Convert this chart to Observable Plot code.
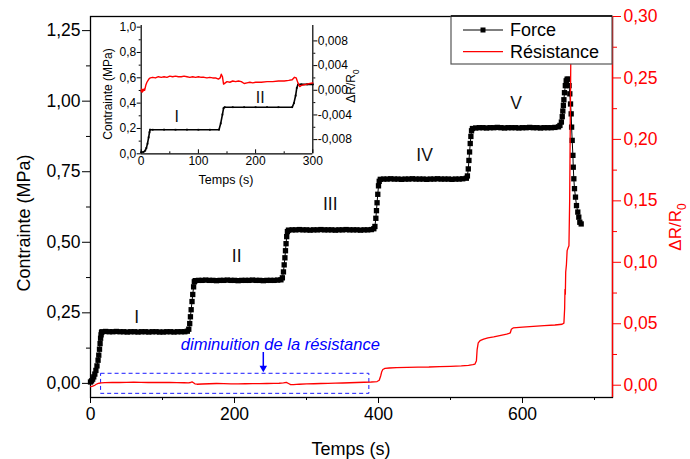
<!DOCTYPE html>
<html><head><meta charset="utf-8">
<script src="https://cdn.jsdelivr.net/npm/d3@7"></script>
<script src="https://cdn.jsdelivr.net/npm/@observablehq/plot@0.6"></script>
<style>
body{margin:0;background:#fff}
#chart{position:relative;width:690px;height:459px;font-family:"Liberation Sans",Arial,sans-serif}
#chart svg{position:absolute;left:0;top:0;overflow:visible}
</style></head><body><div id="chart"></div><script>
// ---------- data ----------
// Force (MPa) vs time (s)
const force = [[0,0.005],[1.5,0.009],[3,0.015],[4.5,0.023],[6,0.033],[7.5,0.046],[9,0.062],[10.5,0.082],[11.5,0.100],[12.5,0.121],[13.3,0.141],[14,0.160],[14.7,0.172],[15.3,0.180],
[16,0.183],[21,0.184],[26,0.183],[31,0.183],[36,0.184],[41,0.183],[46,0.183],[51,0.182],[56,0.183],[61,0.183],[66,0.182],[71,0.183],[76,0.183],[81,0.182],[86,0.183],[91,0.183],[96,0.182],[101,0.182],[106,0.183],[111,0.183],[116,0.182],[121,0.183],[126,0.183],[131,0.183],[134.5,0.185],
[136.5,0.192],[137.8,0.212],[138.8,0.236],[139.8,0.261],[141,0.29],[142,0.315],[143.2,0.342],[144.2,0.360],
[145.5,0.364],[150,0.365],[155,0.365],[160,0.366],[165,0.365],[170,0.365],[175,0.364],[180,0.365],[185,0.365],[190,0.366],[195,0.365],[200,0.365],[205,0.364],[210,0.365],[215,0.365],[220,0.365],[225,0.366],[230,0.365],[235,0.365],[240,0.364],[245,0.365],[250,0.365],[255,0.365],[260,0.366],[264.5,0.367],
[266.5,0.374],[268,0.395],[269,0.42],[270,0.445],[270.8,0.47],[271.6,0.495],[272.5,0.52],[273.5,0.538],
[275,0.543],[280,0.544],[285,0.544],[290,0.545],[295,0.544],[300,0.544],[305,0.543],[310,0.544],[315,0.544],[320,0.545],[325,0.544],[330,0.544],[335,0.544],[340,0.543],[345,0.544],[350,0.544],[355,0.545],[360,0.544],[365,0.544],[370,0.544],[375,0.543],[380,0.544],[385,0.544],[390,0.545],[393.5,0.548],
[395,0.556],[396.3,0.585],[397.2,0.612],[398,0.64],[399,0.67],[400,0.70],[401,0.716],
[402.5,0.723],[407,0.724],[412,0.724],[417,0.725],[422,0.724],[427,0.724],[432,0.723],[437,0.724],[442,0.724],[447,0.725],[452,0.724],[457,0.724],[462,0.724],[467,0.723],[472,0.724],[477,0.724],[482,0.725],[487,0.724],[492,0.724],[497,0.724],[502,0.723],[507,0.724],[512,0.724],[517,0.725],[522,0.727],
[523.5,0.735],[524.7,0.76],[525.6,0.79],[526.5,0.82],[527.4,0.85],[528.3,0.875],[529.2,0.895],
[530.5,0.903],[535,0.905],[540,0.906],[545,0.906],[550,0.905],[555,0.906],[560,0.906],[565,0.907],[570,0.906],[575,0.905],[580,0.906],[585,0.906],[590,0.906],[595,0.905],[600,0.906],[605,0.906],[610,0.907],[615,0.906],[620,0.906],[625,0.905],[630,0.906],[635,0.906],[640,0.906],[645,0.907],[650,0.909],
[652,0.914],[654,0.926],[655.2,0.945],[656,0.965],[656.8,0.985],[657.5,1.005],[658.3,1.03],[659.5,1.055],[660.7,1.072],[662,1.078],[663.5,1.078],[664.7,1.055],[665.7,1.026],[666.7,0.99],[667.6,0.955],[668.2,0.908],[669,0.861],[670,0.808],[670.5,0.766],[671.3,0.725],[672.2,0.69],[673.6,0.66],[675,0.63],[676.8,0.607],[678.2,0.589],[679.6,0.571],[681.5,0.565]];

// Résistance (ΔR/R0) vs time (s)
const resistance = [[0,-0.0012],[2,-0.0010],[4,-0.0006],[6,0.0000],[8,0.0008],[10,0.0013],[12,0.0016],[15,0.0019],[20,0.0021],[30,0.0022],[40,0.0022],[50,0.0023],[60,0.0024],[70,0.0023],[80,0.0022],[90,0.0022],[100,0.0022],[110,0.0022],[120,0.0021],[130,0.0020],[136,0.0019],[139,0.0022],[141,0.0027],[143,0.0020],[145,0.0011],[148,0.0008],[155,0.0010],[165,0.0012],[175,0.0014],[185,0.0013],[195,0.0011],[205,0.0011],[215,0.0012],[225,0.0013],[235,0.0013],[245,0.0014],[255,0.0015],[262,0.0016],[268,0.0019],[272,0.0023],[275,0.0014],[278,0.0005],[282,0.0004],[290,0.0008],[300,0.0011],[310,0.0012],[320,0.0014],[330,0.0015],[340,0.0017],[350,0.0018],[360,0.0020],[370,0.0022],[380,0.0024],[390,0.0026],[398,0.0030],[401,0.0040],[403,0.0075],[404.5,0.0110],[406,0.0128],[409,0.0137],[415,0.0140],[425,0.0143],[440,0.0145],[455,0.0147],[470,0.0148],[485,0.0151],[500,0.0154],[515,0.0158],[525,0.0162],[531,0.0167],[534,0.0172],[536,0.0200],[537,0.0290],[538.5,0.0345],[541,0.0362],[546,0.0375],[552,0.0385],[560,0.0393],[570,0.0405],[578,0.0415],[583,0.0425],[584.5,0.0455],[587,0.0466],[600,0.0472],[615,0.0478],[630,0.0484],[645,0.0490],[655,0.0496],[657.5,0.0505],[658.5,0.062],[659,0.078],[659.5,0.074],[660,0.092],[661,0.098],[662,0.1095],[663.5,0.1120],[664.5,0.1135],[665.5,0.150],[666.3,0.210],[667,0.260],[667.8,0.310]];

// Inset: first 300 s
const insetForce = [[0,0.012],[4,0.015],[7,0.025],[9,0.045],[11,0.08],[13,0.13],[14.5,0.17],[15.5,0.19],[20,0.19],[40,0.19],[60,0.19],[80,0.19],[100,0.19],[120,0.19],[136,0.19],[139,0.24],[142,0.31],[144,0.36],[146,0.368],[160,0.368],[180,0.368],[200,0.368],[220,0.368],[240,0.368],[264,0.368],[267,0.40],[270,0.46],[272,0.52],[274,0.547],[280,0.548],[290,0.548],[300,0.548]];
const insetResistance = [[0,-0.0002],[1,0.0002],[2,-0.0003],[3,0.0001],[4,-0.0001],[5,0.0002],[6,0.0000],[7,0.0004],[8,0.0008],[10,0.0013],[12,0.0016],[14,0.0019],[16,0.0020],[20,0.0021],[25,0.0020],[30,0.0022],[35,0.0021],[40,0.0022],[45,0.0021],[50,0.0023],[55,0.0022],[60,0.0023],[65,0.0022],[70,0.0022],[75,0.0023],[80,0.0022],[85,0.0021],[90,0.0022],[95,0.0021],[100,0.0022],[105,0.0021],[110,0.0021],[115,0.0020],[120,0.0021],[125,0.0020],[130,0.0020],[135,0.0018],[138,0.0020],[140,0.0026],[142,0.0022],[144,0.0010],[147,0.0012],[150,0.0014],[155,0.0013],[160,0.0015],[165,0.0014],[170,0.0015],[175,0.0014],[180,0.0011],[185,0.0012],[190,0.0013],[195,0.0012],[200,0.0013],[210,0.0013],[220,0.0014],[230,0.0014],[240,0.0015],[250,0.0015],[258,0.0016],[264,0.0017],[268,0.0021],[271,0.0020],[274,0.0012],[277,0.0006],[280,0.0008],[285,0.0009],[290,0.0010],[295,0.0011],[300,0.0012]];

// Labels and annotations
const stages = [{t:64,v:0.234,label:"I"},{t:203,v:0.45,label:"II"},{t:333,v:0.636,label:"III"},{t:464,v:0.808,label:"IV"},{t:591,v:0.993,label:"V"}];
const insetStages = [{t:62,v:0.29,label:"I"},{t:208,v:0.44,label:"II"}];
const noteBox = [{t1:14.7,t2:387.3,v1:-0.037,v2:0.034}];
const noteText = [{t:125.5,v:0.136,label:"diminuition de la résistance"}];
const noteArrow = [{t:240,v1:0.1095,v2:0.058,tip:0.0547}];

// Ticks
const xTicks = [0,200,400,600], xMinor = [100,300,500,700];
const yTicks = [0,0.25,0.5,0.75,1,1.25], yMinor = [0.125,0.375,0.625,0.875,1.125];
const rTicks = [0,0.05,0.1,0.15,0.2,0.25,0.3], rMinor = [0.025,0.075,0.125,0.175,0.225,0.275];
const ixTicks = [0,100,200,300], ixMinor = [50,150,250];
const iyTicks = [0,0.2,0.4,0.6,0.8,1.0], iyMinor = [0.1,0.3,0.5,0.7,0.9];
const irTicks = [-0.008,-0.004,0,0.004,0.008], irMinor = [-0.006,-0.002,0.002,0.006];

// ---------- drawing ----------
const W = 690, H = 459;
const FONT = "'Liberation Sans', Arial, sans-serif";
const F = force.map(([t,v]) => ({t,v}));
const R = resistance.map(([t,r]) => ({t,r}));
const IF = insetForce.map(([t,v]) => ({t,v}));
const IR = insetResistance.map(([t,r]) => ({t,r}));
const comma = (d,n) => (d < -1e-12 ? "-" : "") + Math.abs(d).toFixed(n).replace(".", ",");
const blank = () => "";
const root = document.getElementById("chart");

const mainM = {marginLeft:90, marginRight:78, marginTop:16, marginBottom:62};
const main = Plot.plot({
  width:W, height:H, ...mainM,
  style:{fontFamily:FONT, fontSize:"17.5px", background:"transparent", color:"black"},
  x:{domain:[0,725]}, y:{domain:[-0.05,1.3]},
  marks:[
    Plot.frame({stroke:"black", strokeWidth:1.3}),
    Plot.axisY(yMinor, {tickSize:4, tickFormat:blank, label:null}),
    Plot.axisY(yTicks, {tickSize:8, tickPadding:2, tickFormat:d=>comma(d,2), label:null}),
    Plot.axisX(xMinor, {tickSize:3, tickFormat:blank, label:null}),
    Plot.axisX(xTicks, {tickSize:6, tickPadding:4, tickFormat:d=>String(d), label:null}),
    Plot.rect(noteBox, {x1:"t1", x2:"t2", y1:"v1", y2:"v2", fill:"none", stroke:"#1a1aff", strokeWidth:1, strokeDasharray:"4,3"}),
    Plot.ruleX(noteArrow, {x:"t", y1:"v1", y2:"v2", stroke:"#0000ff", strokeWidth:1.5}),
    Plot.dot(noteArrow, {x:"t", y:"tip", symbol:"triangle", r:2.8, rotate:180, fill:"#0000ff", stroke:null}),
    Plot.text(noteText, {x:"t", y:"v", text:"label", textAnchor:"start", fill:"#0000ff", fontStyle:"italic", fontSize:16.5}),
    Plot.line(F, {x:"t", y:"v", stroke:"black", strokeWidth:1}),
    Plot.dot(F, {x:"t", y:"v", symbol:"square", r:3, fill:"black", stroke:null}),
    Plot.text(stages, {x:"t", y:"v", text:"label", fontSize:17.5, fill:"#111"})
  ]
});
root.appendChild(main);

const red = Plot.plot({
  width:W, height:H, ...mainM,
  style:{fontFamily:FONT, fontSize:"17.5px", background:"transparent", color:"#ff0000"},
  x:{domain:[0,725], axis:null}, y:{domain:[-0.01,0.30]},
  marks:[
    Plot.axisY(rMinor, {anchor:"right", tickSize:4, tickFormat:blank, label:null}),
    Plot.axisY(rTicks, {anchor:"right", tickSize:8, tickPadding:3, tickFormat:d=>comma(d,2), label:null}),
    Plot.ruleX([725], {stroke:"#ff0000", strokeWidth:1.3}),
    Plot.line(R, {x:"t", y:"r", stroke:"#ff0000", strokeWidth:1.3, clip:true})
  ]
});
root.appendChild(red);

const inM = {marginLeft:140.7, marginRight:W-312.3, marginTop:25, marginBottom:H-153.3};
const inset = Plot.plot({
  width:W, height:H, ...inM,
  style:{fontFamily:FONT, fontSize:"12px", background:"transparent", color:"black"},
  x:{domain:[0,300]}, y:{domain:[0,1.013]},
  marks:[
    Plot.ruleX([0], {stroke:"black", strokeWidth:1.2}),
    Plot.ruleY([0], {stroke:"black", strokeWidth:1.2}),
    Plot.axisY(iyMinor, {tickSize:2, tickFormat:blank, label:null}),
    Plot.axisY(iyTicks, {tickSize:4, tickPadding:1, tickFormat:d=>comma(d,1), label:null}),
    Plot.axisX(ixMinor, {tickSize:-2, tickFormat:blank, label:null}),
    Plot.axisX(ixTicks, {tickSize:-4, tickPadding:7, tickFormat:d=>String(d), label:null}),
    Plot.line(IF, {x:"t", y:"v", stroke:"black", strokeWidth:1.6}),
    Plot.dot(IF, {x:"t", y:"v", symbol:"square", r:1, fill:"black", stroke:null}),
    Plot.text(insetStages, {x:"t", y:"v", text:"label", fontSize:16, fill:"#111"})
  ]
});
root.appendChild(inset);

const insetRed = Plot.plot({
  width:W, height:H, ...inM,
  style:{fontFamily:FONT, fontSize:"12px", background:"transparent", color:"black"},
  x:{domain:[0,300], axis:null}, y:{domain:[-0.0103,0.0105]},
  marks:[
    Plot.ruleX([300], {stroke:"black", strokeWidth:1.2}),
    Plot.axisY(irMinor, {anchor:"right", tickSize:2, tickFormat:blank, label:null}),
    Plot.axisY(irTicks, {anchor:"right", tickSize:4, tickPadding:1, tickFormat:d=>comma(d,3), label:null}),
    Plot.line(IR, {x:"t", y:"r", stroke:"#ff0000", strokeWidth:1.4})
  ]
});
root.appendChild(insetRed);

// Axis titles and legend
const svg = d3.select(root).append("svg").attr("width", W).attr("height", H)
  .style("font-family", FONT);
function title(x, y, size, color, rot, parts){
  const t = svg.append("text").attr("transform", `translate(${x},${y}) rotate(${rot})`)
    .attr("text-anchor","middle").attr("dominant-baseline","central")
    .attr("font-size", size).attr("fill", color);
  parts.forEach(([s, sub]) => {
    const sp = t.append("tspan").text(s);
    if (sub) sp.attr("baseline-shift","sub").attr("font-size", size*0.7);
  });
}
title(24, 223, 18, "black", -90, [["Contrainte (MPa)"]]);
title(351, 449, 18, "black", 0, [["Temps (s)"]]);
title(675, 227, 17, "#ff0000", -90, [["ΔR/R"],["0",true]]);
title(108, 94, 12, "black", -90, [["Contrainte (MPa)"]]);
title(226, 180, 12.5, "black", 0, [["Temps (s)"]]);
title(351, 86, 12, "black", -90, [["ΔR/R"],["0",true]]);

const legendItems = [{label:"Force", color:"black", marker:true},{label:"Résistance", color:"#ff0000", marker:false}];
const lg = svg.append("g");
lg.append("rect").attr("x",451).attr("y",16).attr("width",161).attr("height",48)
  .attr("fill","white").attr("stroke","#555").attr("stroke-width",1.2);
legendItems.forEach((d,i) => {
  const y = 30 + i*21.7;
  lg.append("line").attr("x1",463).attr("x2",503).attr("y1",y).attr("y2",y).attr("stroke",d.color).attr("stroke-width",1.2);
  if (d.marker) lg.append("rect").attr("x",480.5).attr("y",y-2.5).attr("width",5).attr("height",5).attr("fill","black");
  lg.append("text").attr("x",510).attr("y",y).attr("dominant-baseline","central").attr("font-size",18).attr("fill","black").text(d.label);
});
// top border line of the frame over the legend
svg.append("line").attr("x1",451).attr("x2",612).attr("y1",16).attr("y2",16).attr("stroke","black").attr("stroke-width",1.3);
</script></body></html>
